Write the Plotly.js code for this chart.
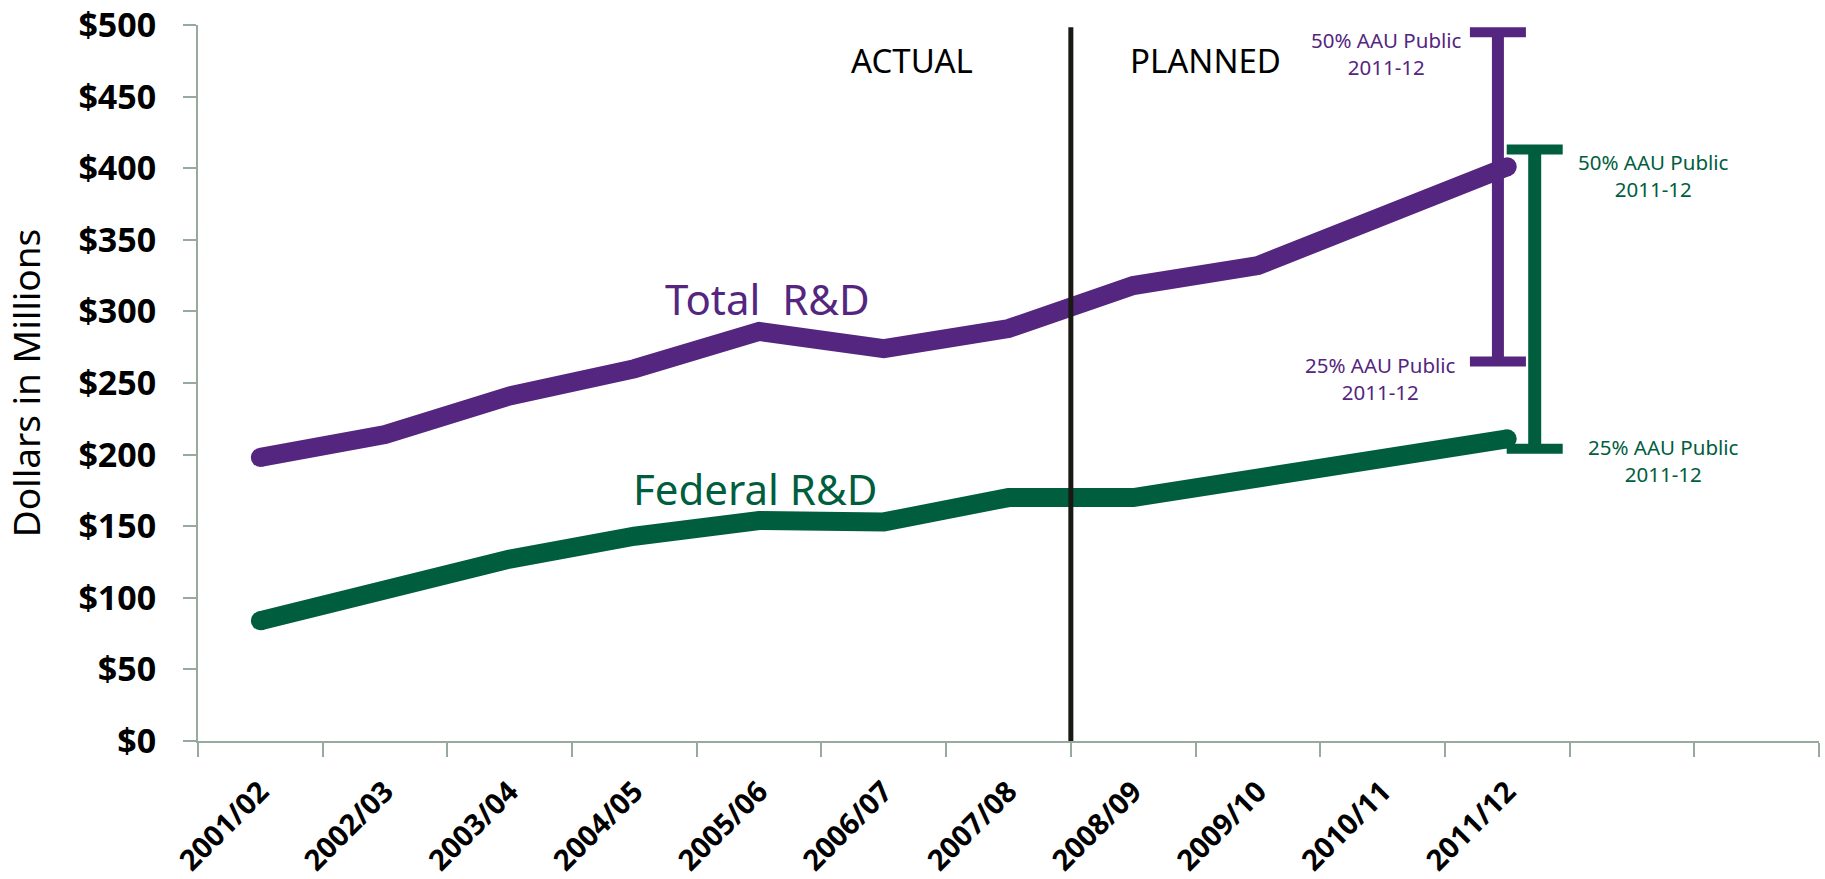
<!DOCTYPE html>
<html>
<head>
<meta charset="utf-8">
<script src="https://cdn.plot.ly/plotly-3.0.1.min.js"></script>
<style>
  html, body { margin: 0; padding: 0; background: #fff; }
  #chart { width: 1825px; height: 879px; }
</style>
</head>
<body>
<div id="chart"></div>
<script>
// ---- data ----
const years = ["2001/02","2002/03","2003/04","2004/05","2005/06","2006/07","2007/08","2008/09","2009/10","2010/11","2011/12"];
const totalRD   = [198, 214, 241, 260, 286, 274, 288, 318, 332, 366, 401];
const federalRD = [84, 105, 127, 143, 154, 153, 170, 170, 184, 197, 211];
// AAU Public 2011-12 benchmarks: [25%, 50%]
const totalAAU   = [265, 495];
const federalAAU = [204, 413];
const yTicks = [0, 50, 100, 150, 200, 250, 300, 350, 400, 450, 500];

// ---- styles ----
const PURPLE = "#54267f";
const GREEN  = "#005e3e";
const AXIS   = "#98aa9e";
const FONT   = "'Noto Sans', 'Liberation Sans', sans-serif";

const idx = years.map((_, i) => i);
const endSizes = years.map((_, i) => (i === 0 || i === years.length - 1) ? 19 : 0);
const lastIdx = years.length - 1;
const boundaries = [];
for (let b = -0.5; b <= 12.5; b += 1) boundaries.push(b);

function lineTrace(y, color) {
  return {
    x: idx, y: y, type: "scatter", mode: "lines+markers",
    line: { color: color, width: 19 },
    marker: { color: color, size: endSizes, opacity: 1, line: { width: 0 } },
    hoverinfo: "skip", showlegend: false
  };
}
function rangeTrace(vals, xpos, color, stem) {
  return {
    x: vals.map(() => xpos), y: vals, type: "scatter", mode: "lines+markers",
    line: { color: color, width: stem },
    marker: { symbol: "line-ew", size: 40, color: color, opacity: 1, line: { color: color, width: 10 } },
    hoverinfo: "skip", showlegend: false
  };
}

const traces = [
  lineTrace(totalRD, PURPLE),
  lineTrace(federalRD, GREEN),
  rangeTrace(totalAAU, lastIdx - 0.075, PURPLE, 12),
  rangeTrace(federalAAU, lastIdx + 0.22, GREEN, 13)
];

function ann(text, x, y, color, size) {
  return {
    text: text, x: x, y: y, xref: "x", yref: "y", showarrow: false,
    xanchor: "center", yanchor: "middle",
    font: { family: FONT, size: size, color: color }
  };
}

const layout = {
  width: 1825, height: 879,
  margin: { l: 198, r: 6, t: 25, b: 137.5 },
  paper_bgcolor: "#ffffff", plot_bgcolor: "#ffffff",
  showlegend: false,
  xaxis: {
    type: "linear", range: [-0.5, 12.5], fixedrange: true,
    tickmode: "array", tickvals: idx, ticktext: years,
    ticks: "", tickangle: -45, ticklabelstandoff: 20, ticklabeloverflow: "allow",
    tickfont: { family: FONT, size: 29, color: "#000", weight: "bold" },
    showline: true, linecolor: AXIS, linewidth: 2,
    showgrid: false, zeroline: false,
    minor: { tickmode: "array", tickvals: boundaries, ticks: "outside", ticklen: 14, tickwidth: 2, tickcolor: AXIS, showgrid: false }
  },
  yaxis: {
    range: [0, 500], fixedrange: true,
    tickmode: "array", tickvals: yTicks, ticktext: yTicks.map(v => "$" + v),
    ticks: "outside", ticklen: 13, tickwidth: 2, tickcolor: AXIS,
    ticklabelstandoff: 20, ticklabeloverflow: "allow",
    tickfont: { family: FONT, size: 34, color: "#000", weight: "bold" },
    showline: true, linecolor: AXIS, linewidth: 2,
    showgrid: false, zeroline: false,
    title: { text: "Dollars in Millions", standoff: 38, font: { family: FONT, size: 37, color: "#000" } }
  },
  shapes: [
    { type: "line", xref: "x", yref: "paper", x0: 6.5, x1: 6.5, y0: 0, y1: 0.997,
      line: { color: "#1a1812", width: 5 } }
  ],
  annotations: [
    ann("Total  R&amp;D", 4.07, 309, PURPLE, 42),
    ann("Federal R&amp;D", 3.97, 176, GREEN, 42),
    ann("ACTUAL", 5.23, 475, "#000", 33),
    ann("PLANNED", 7.58, 475, "#000", 33),
    ann("50% AAU Public<br>2011-12", 9.03, 480, PURPLE, 20.5),
    ann("25% AAU Public<br>2011-12", 8.98, 253, PURPLE, 20.5),
    ann("50% AAU Public<br>2011-12", 11.17, 395, GREEN, 20.5),
    ann("25% AAU Public<br>2011-12", 11.25, 196, GREEN, 20.5)
  ]
};

Plotly.newPlot("chart", traces, layout, { staticPlot: true, displayModeBar: false });
</script>
</body>
</html>
